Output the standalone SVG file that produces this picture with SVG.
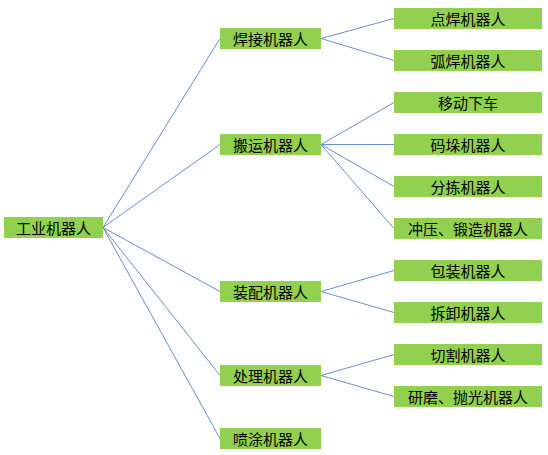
<svg xmlns="http://www.w3.org/2000/svg" width="548" height="455" viewBox="0 0 548 455">
<style>
.b{fill:#92d050}
.t{font-family:"Noto Sans CJK SC","Noto Sans CJK JP",sans-serif;font-size:15px;fill:#000;text-anchor:middle;dominant-baseline:central}
.c{stroke:#6a8fd0;stroke-width:1;fill:none}
</style>
<rect width="548" height="455" fill="#fff"/>
<g id="connectors" class="c">
<path d="M103,227.5L220,38.5M103,227.5L220,144.5M103,227.5L220,291.5M103,227.5L220,375.5M103,227.5L220,438.5"/>
<path d="M321,38.5L394,18.5M321,38.5L394,60.5"/>
<path d="M321,144.5L394,102.5M321,144.5L394,144.5M321,144.5L394,186.5M321,144.5L394,228.5"/>
<path d="M321,291.5L394,270.5M321,291.5L394,312.5"/>
<path d="M321,375.5L394,354.5M321,375.5L394,396.5"/>
</g>
<g id="root"><rect class="b" x="4" y="217" width="99" height="21"/><text class="t" x="53.5" y="227.5">工业机器人</text></g>
<g id="n1"><rect class="b" x="220" y="28" width="101" height="21"/><text class="t" x="270.5" y="38.5">焊接机器人</text></g>
<g id="n2"><rect class="b" x="220" y="134" width="101" height="21"/><text class="t" x="270.5" y="144.5">搬运机器人</text></g>
<g id="n3"><rect class="b" x="220" y="281" width="101" height="21"/><text class="t" x="270.5" y="291.5">装配机器人</text></g>
<g id="n4"><rect class="b" x="220" y="365" width="101" height="21"/><text class="t" x="270.5" y="375.5">处理机器人</text></g>
<g id="n5"><rect class="b" x="220" y="428" width="101" height="21"/><text class="t" x="270.5" y="438.5">喷涂机器人</text></g>
<g id="l1"><rect class="b" x="394" y="8" width="148" height="21"/><text class="t" x="468" y="18.5">点焊机器人</text></g>
<g id="l2"><rect class="b" x="394" y="50" width="148" height="21"/><text class="t" x="468" y="60.5">弧焊机器人</text></g>
<g id="l3"><rect class="b" x="394" y="92" width="148" height="21"/><text class="t" x="468" y="102.5">移动下车</text></g>
<g id="l4"><rect class="b" x="394" y="134" width="148" height="21"/><text class="t" x="468" y="144.5">码垛机器人</text></g>
<g id="l5"><rect class="b" x="394" y="176" width="148" height="21"/><text class="t" x="468" y="186.5">分拣机器人</text></g>
<g id="l6"><rect class="b" x="394" y="218" width="148" height="21"/><text class="t" x="468" y="228.5">冲压、锻造机器人</text></g>
<g id="l7"><rect class="b" x="394" y="260" width="148" height="21"/><text class="t" x="468" y="270.5">包装机器人</text></g>
<g id="l8"><rect class="b" x="394" y="302" width="148" height="21"/><text class="t" x="468" y="312.5">拆卸机器人</text></g>
<g id="l9"><rect class="b" x="394" y="344" width="148" height="21"/><text class="t" x="468" y="354.5">切割机器人</text></g>
<g id="l10"><rect class="b" x="394" y="386" width="148" height="21"/><text class="t" x="468" y="396.5">研磨、抛光机器人</text></g>
</svg>
